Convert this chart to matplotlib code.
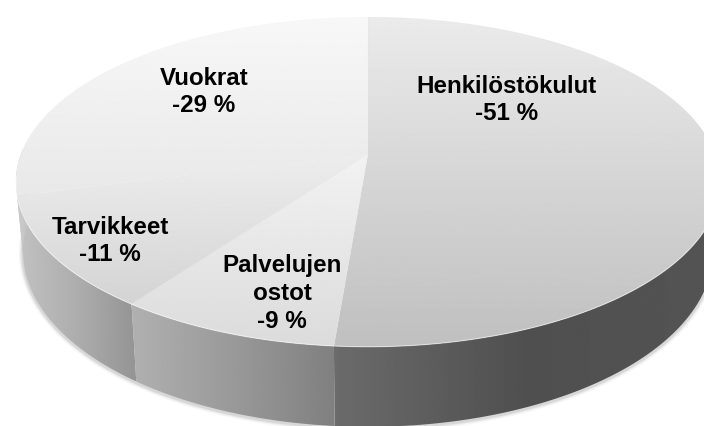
#!/usr/bin/env python3

import numpy as np
import matplotlib
matplotlib.use('Agg')
import matplotlib.pyplot as plt
from matplotlib.patches import Polygon

# Data (shares estimated from the slice boundaries, labels show them rounded)
categories = ['Henkilöstökulut', 'Palvelujen\nostot', 'Tarvikkeet', 'Vuokrat']
shares = [51.3, 8.7, 11.0, 29.0]

# Label centres in pixels
label_x = [507, 282, 110, 204]
label_y = [100, 293.5, 241, 92]

# Grey levels: top surface (upper, lower) and side wall (left, middle, right)
top_greys = [(0.92, 0.75), (0.95, 0.86), (0.93, 0.83), (0.97, 0.91)]
wall_greys = [(0.42, 0.31, 0.33), (0.69, 0.60, 0.50), (0.76, 0.68, 0.58), (0.80, 0.78, 0.76)]

# Perspective of the disc
K = 0.17
TOP = dict(cx=368, cy=155, a=347, b=160)
BOTTOM = dict(cx=368, cy=223, a=340, b=170)


def project(theta, cx, cy, a, b):
    # theta in radians, clockwise from the far side of the disc
    d = 1 + K * np.cos(theta)
    return cx + a * np.sin(theta) / d, cy - b * np.cos(theta) / d


def gradient_fill(ax, xs, ys, greys, vertical=True, stroke=True):
    poly = Polygon(np.column_stack([xs, ys]), closed=True, fc='none', ec='none')
    ax.add_patch(poly)
    ramp = np.interp(np.linspace(0, 1, 256), np.linspace(0, 1, len(greys)), greys)
    img = ramp.reshape(-1, 1) if vertical else ramp.reshape(1, -1)
    extent = (min(xs), max(xs), max(ys), min(ys))
    im = ax.imshow(img, cmap='gray', vmin=0, vmax=1, extent=extent,
                   aspect='auto', interpolation='bilinear', zorder=poly.get_zorder())
    im.set_clip_path(poly)
    if stroke:
        # thin stroke hides the jagged edge of the clip
        ax.plot(list(xs) + [xs[0]], list(ys) + [ys[0]], color=str(np.mean(greys)),
                lw=0.4, alpha=0.3, zorder=poly.get_zorder())


def main():
    fig = plt.figure(figsize=(7.04, 4.27), dpi=100)
    ax = fig.add_axes([0, 0, 1, 1])

    edges = np.cumsum([0] + shares) / 100.0 * 2 * np.pi

    # Soft shadow under the lower rim
    t = np.linspace(np.radians(85), np.radians(272), 300)
    sx, sy = project(t, **BOTTOM)
    for lw, alpha in [(6, 0.05), (4, 0.08), (2.5, 0.12)]:
        ax.plot(sx, sy + 1, color='0.35', lw=lw, alpha=alpha, zorder=1)

    # Side walls, only the front part can be seen
    for i in range(len(shares)):
        lo = max(edges[i], np.radians(85))
        hi = min(edges[i + 1], np.radians(272))
        if hi <= lo:
            continue
        t = np.linspace(lo, hi, 120)
        ux, uy = project(t, **TOP)
        lx, ly = project(t, **BOTTOM)
        xs = np.concatenate([ux, lx[::-1]])
        ys = np.concatenate([uy, ly[::-1]])
        gradient_fill(ax, xs, ys, wall_greys[i], vertical=False, stroke=False)

    # Top surface
    for i in range(len(shares)):
        t = np.linspace(edges[i], edges[i + 1], 240)
        ex, ey = project(t, **TOP)
        xs = np.concatenate([[TOP['cx']], ex])
        ys = np.concatenate([[TOP['cy']], ey])
        gradient_fill(ax, xs, ys, top_greys[i], vertical=True)

    # Light rim on the front edge
    t = np.linspace(np.radians(95), np.radians(262), 300)
    rx, ry = project(t, **TOP)
    ax.plot(rx, ry, color='white', lw=0.8, alpha=0.5, zorder=3)

    # Labels
    for name, share, x, y in zip(categories, shares, label_x, label_y):
        ax.text(x, y, f'{name}\n-{round(share)} %', ha='center', va='center',
                family='Liberation Sans', weight='bold', fontsize=17.4,
                linespacing=1.26, color='black', zorder=5)

    ax.set_xlim(0, 704)
    ax.set_ylim(427, 0)
    ax.axis('off')

    fig.savefig('out.png', dpi=100, facecolor='white')


if __name__ == '__main__':
    main()
